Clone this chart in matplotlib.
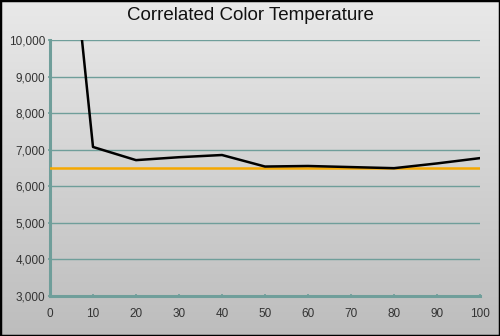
import numpy as np
import matplotlib
matplotlib.use("Agg")
import matplotlib.pyplot as plt
from matplotlib.patches import Rectangle
from matplotlib.colors import LinearSegmentedColormap

x_vals = [0, 10, 20, 30, 40, 50, 60, 70, 80, 90, 100]
cct = [18500, 7075, 6715, 6795, 6855, 6540, 6555, 6525, 6495, 6625, 6770]
target = 6500
y_ticks = [3000, 4000, 5000, 6000, 7000, 8000, 9000, 10000]
x_ticks = [0, 10, 20, 30, 40, 50, 60, 70, 80, 90, 100]
title = "Correlated Color Temperature"

plt.rcParams['font.family'] = ['Liberation Sans', 'DejaVu Sans']

fig = plt.figure(figsize=(5, 3.36), dpi=100)

# background gradient
bg = fig.add_axes([0, 0, 1, 1], zorder=-10)
grad = np.linspace(0, 1, 256).reshape(-1, 1)
cmap = LinearSegmentedColormap.from_list("g", ["#e9e9e9", "#bdbdbd"])
bg.imshow(grad, aspect='auto', cmap=cmap, extent=[0, 1, 0, 1], origin='upper')
bg.set_xlim(0, 1); bg.set_ylim(0, 1)
bg.axis('off')
bg.add_patch(Rectangle((0, 0), 1, 1, transform=bg.transAxes, fill=False,
                       edgecolor='black', linewidth=2.5))

ax = fig.add_axes([0.1, 0.119, 0.86, 0.762])
ax.patch.set_alpha(0)
ax.set_xlim(0, 100)
ax.set_ylim(3000, 10000)
teal = "#6f9e9a"
ax.set_yticks(y_ticks)
ax.set_yticklabels([f"{v:,}" for v in y_ticks])
ax.set_xticks(x_ticks)
ax.set_xticklabels([str(v) for v in x_ticks])
ax.grid(axis='y', color=teal, linewidth=1.0)
ax.set_axisbelow(True)
for s in ['top', 'right']:
    ax.spines[s].set_visible(False)
for s in ['left', 'bottom']:
    ax.spines[s].set_color(teal)
    ax.spines[s].set_linewidth(2.2)
ax.tick_params(axis='both', colors=teal, length=3, width=1.2, direction='inout',
               labelsize=8.5, labelcolor='#333333')
ax.tick_params(axis='x', pad=7)
ax.tick_params(axis='y', pad=2)

ax.axhline(target, color="#f5a800", linewidth=1.8, zorder=3)
ax.plot(x_vals, cct, color='black', linewidth=1.8, zorder=4, clip_on=True)

fig.text(0.5, 0.953, title, ha='center', va='center', fontsize=13.5, color='#111111')

fig.savefig("out.png", dpi=100)
